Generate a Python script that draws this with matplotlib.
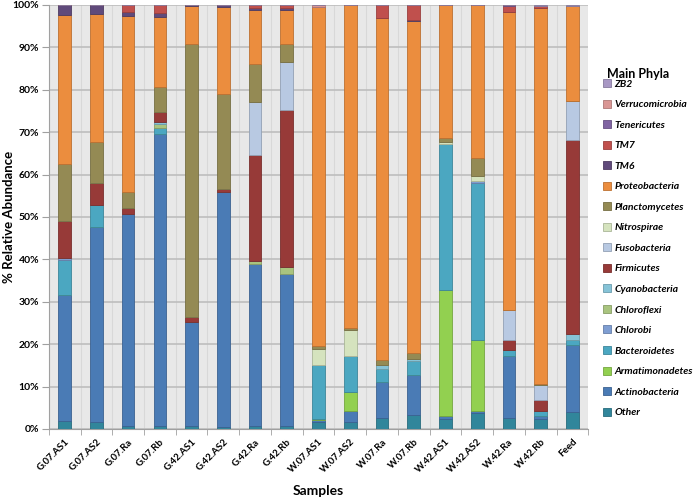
import numpy as np
import matplotlib.pyplot as plt
from matplotlib.colors import to_rgb

plt.rcParams['font.family'] = ['Lato', 'DejaVu Sans']

samples = ['G.07.AS1', 'G.07.AS2', 'G.07.Ra', 'G.07.Rb', 'G.42.AS1', 'G.42.AS2',
           'G.42.Ra', 'G.42.Rb', 'W.07.AS1', 'W.07.AS2', 'W.07.Ra', 'W.07.Rb',
           'W.42.AS1', 'W.42.AS2', 'W.42.Ra', 'W.42.Rb', 'Feed']

# % relative abundance per phylum (bottom of the stack first)
other = [1.9, 1.7, 0.8, 0.6, 0.6, 0.4, 0.8, 0.8, 1.6, 1.6, 2.5, 3.3, 2.4, 3.7, 2.5, 2.3, 3.9]
actino = [29.6, 45.9, 50.0, 68.9, 24.6, 55.5, 38.2, 35.7, 0.4, 2.6, 8.5, 9.5, 0.7, 0.5, 14.8, 0.8, 15.8]
armat = [0, 0, 0, 0, 0, 0, 0, 0, 0.3, 4.5, 0, 0, 29.6, 16.8, 0, 0, 0]
bact = [8.4, 5.2, 0, 1.4, 0, 0, 0, 0, 12.7, 8.5, 3.2, 3.2, 34.5, 37.0, 1.4, 1.1, 1.2]
chlorobi = [0.3, 0, 0, 0, 0, 0, 0, 0, 0, 0, 0, 0, 0, 0.5, 0, 0, 0]
chloroflexi = [0, 0, 0, 1.0, 0, 0, 0.6, 1.7, 0, 0, 0, 0, 0, 0, 0, 0, 0]
cyano = [0, 0, 0, 0.5, 0, 0, 0, 0, 0, 0, 0.8, 0.5, 0, 0, 0, 0, 1.6]
firm = [8.8, 5.1, 1.2, 2.4, 1.1, 0.8, 25.0, 37.0, 0, 0, 0, 0, 0, 0, 2.2, 2.7, 45.6]
fuso = [0, 0, 0, 0, 0, 0, 12.6, 11.4, 0, 0, 0, 0, 0, 0, 7.2, 3.5, 9.3]
nitro = [0, 0, 0, 0, 0, 0, 0, 0, 3.9, 6.2, 0, 0, 0.4, 1.2, 0, 0, 0]
plancto = [13.6, 9.8, 4.0, 5.8, 64.5, 22.2, 8.8, 4.3, 0.6, 0.5, 1.3, 1.5, 1.1, 4.3, 0, 0.3, 0]
proteo = [35.0, 30.1, 41.4, 16.6, 8.9, 20.6, 12.9, 8.0, 80.0, 76.1, 80.6, 78.2, 31.3, 36.0, 70.2, 88.6, 22.3]
tm6 = [2.4, 2.2, 1.0, 0.8, 0.3, 0.5, 0.3, 0.3, 0, 0, 0, 0.3, 0, 0, 0, 0, 0]
tm7 = [0, 0, 1.6, 2.0, 0, 0, 0.8, 0.8, 0, 0, 3.1, 3.5, 0, 0, 1.5, 0.5, 0]
teneric = [0, 0, 0, 0, 0, 0, 0, 0, 0, 0, 0, 0, 0, 0, 0.2, 0, 0]
verruco = [0, 0, 0, 0, 0, 0, 0, 0, 0.5, 0, 0, 0, 0, 0, 0, 0, 0]
zb2 = [0, 0, 0, 0, 0, 0, 0, 0, 0, 0, 0, 0, 0, 0, 0, 0.2, 0.3]

phyla = ['Other', 'Actinobacteria', 'Armatimonadetes', 'Bacteroidetes', 'Chlorobi',
         'Chloroflexi', 'Cyanobacteria', 'Firmicutes', 'Fusobacteria', 'Nitrospirae',
         'Planctomycetes', 'Proteobacteria', 'TM6', 'TM7', 'Tenericutes',
         'Verrucomicrobia', 'ZB2']
values = [other, actino, armat, bact, chlorobi, chloroflexi, cyano, firm, fuso, nitro,
          plancto, proteo, tm6, tm7, teneric, verruco, zb2]
colors = ['#31869B', '#4A7BB5', '#92D050', '#4BA7C1', '#7F9ED2', '#A9C47F', '#86C3D7',
          '#973A38', '#B8C9E2', '#D5E3BE', '#948A54', '#EB8D3E', '#604A7B', '#C0504D',
          '#8064A2', '#D99694', '#A898C4']


def darker(c, f=0.8):
    r, g, b = to_rgb(c)
    return (r * f, g * f, b * f)


fig = plt.figure(figsize=(6.97, 4.97), dpi=100)
ax = fig.add_axes([0.070, 0.137, 0.774, 0.853])
ax.set_facecolor('#E8E8E8')

x = np.arange(len(samples))
bottom = np.zeros(len(samples))
handles = []
for name, vals, col in zip(phyla, values, colors):
    vals = np.array(vals)
    b = ax.bar(x, vals, 0.4, bottom=bottom, color=col, edgecolor=darker(col),
               linewidth=0.6, label=name, zorder=3)
    handles.append(b)
    bottom += vals

ax.set_xlim(-0.5, len(samples) - 0.5)
ax.set_ylim(0, 100)
ax.set_yticks(np.arange(0, 101, 10))
ax.set_yticklabels(['%d%%' % v for v in range(0, 101, 10)], fontsize=7.5, fontweight='bold')
ax.set_xticks(x)
ax.set_xticklabels(samples, rotation=45, ha='right', rotation_mode='anchor',
                   fontsize=7, fontweight='bold')
ax.set_xticks(np.arange(-0.5, len(samples)), minor=True)
ax.tick_params(axis='x', which='major', length=0, pad=6)
ax.tick_params(axis='x', which='minor', length=4, color='#A0A0A0')
ax.tick_params(axis='y', length=5, color='#A0A0A0', pad=2)
ax.grid(axis='y', color='#BDBDBD', linewidth=1.2, zorder=0)
ax.grid(axis='x', which='minor', color='#D8D8D8', linewidth=0.8, zorder=0)
for s in ['top', 'right']:
    ax.spines[s].set_visible(False)
for s in ['left', 'bottom']:
    ax.spines[s].set_color('#A0A0A0')

ax.set_xlabel('Samples', fontsize=10, fontweight='bold', labelpad=7)
fig.text(0.0125, 0.563, '% Relative Abundance', rotation=90, ha='center', va='center',
         fontsize=9.5, fontweight='bold')

fig.text(607 / 697, 1 - 74 / 497, 'Main Phyla', ha='left', va='center',
         fontsize=9, fontweight='bold')
leg = fig.legend(handles[::-1], phyla[::-1], loc='upper left',
                 bbox_to_anchor=(603 / 697, 1 - 79 / 497), frameon=False,
                 borderpad=0, borderaxespad=0,
                 handlelength=0.8, handleheight=0.8,
                 handletextpad=0.3, labelspacing=1.05,
                 prop={'size': 7.5, 'weight': 'bold', 'style': 'italic'})

fig.savefig('out.png', dpi=100)
